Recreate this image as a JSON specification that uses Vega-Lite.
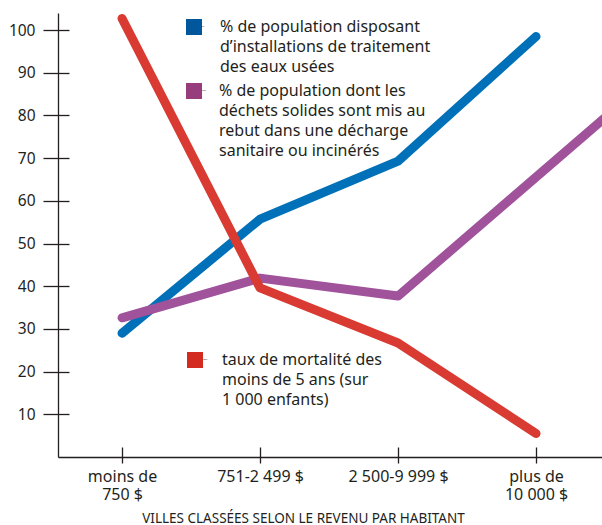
{
  "$schema": "https://vega.github.io/schema/vega-lite/v6.json",
  "width": 544,
  "height": 444,
  "autosize": {"type": "none"},
  "padding": {"left": 58, "top": 13, "right": 0, "bottom": 68},
  "background": "white",
  "config": {
    "view": {"stroke": null},
    "font": "Noto Sans",
    "axis": {"grid": false, "labelColor": "#231F20", "titleColor": "#231F20", "tickColor": "#231F20", "domainColor": "#231F20"},
    "legend": {
      "orient": "none", "padding": 0, "symbolType": "square", "symbolSize": 256, "symbolStrokeWidth": 0,
      "labelExpr": "''", "labelOffset": 0, "labelFontSize": 1,
      "titleOrient": "right", "titleAnchor": "start", "titleBaseline": "top", "titleFontSize": 16,
      "titleFontWeight": "normal", "titleColor": "#231F20", "titleLineHeight": 20, "titlePadding": 16, "titleLimit": 0
    }
  },
  "data": {
    "values": [
      {"serie": "eaux", "pos": 0, "valeur": 29.0},
      {"serie": "eaux", "pos": 1, "valeur": 55.7},
      {"serie": "eaux", "pos": 2, "valeur": 69.3},
      {"serie": "eaux", "pos": 3, "valeur": 98.5},
      {"serie": "déchets", "pos": 0, "valeur": 32.6},
      {"serie": "déchets", "pos": 1, "valeur": 41.9},
      {"serie": "déchets", "pos": 2, "valeur": 37.7},
      {"serie": "déchets", "pos": 3.5, "valeur": 79.5},
      {"serie": "mortalité", "pos": 0, "valeur": 102.7},
      {"serie": "mortalité", "pos": 1, "valeur": 39.6},
      {"serie": "mortalité", "pos": 2, "valeur": 26.7},
      {"serie": "mortalité", "pos": 3, "valeur": 5.5}
    ]
  },
  "resolve": {
    "scale": {"fill": "independent"},
    "axis": {"x": "independent", "y": "independent"}
  },
  "layer": [
    {
      "mark": {"type": "point", "opacity": 0},
      "encoding": {
        "x": {"field": "pos", "type": "quantitative", "scale": {"domain": [-0.464, 3.478], "nice": false, "zero": false},
          "axis": {"orient": "bottom", "domain": true, "domainWidth": 1.3, "ticks": false, "labels": false, "title": null}},
        "y": {"field": "valeur", "type": "quantitative", "scale": {"domain": [0, 104], "nice": false},
          "axis": {"orient": "left", "domain": true, "domainWidth": 1.3, "ticks": false, "labels": false, "title": null}}
      }
    },
    {
      "transform": [{"filter": "datum.serie == 'eaux'"}],
      "mark": {"type": "square", "size": 16, "filled": true, "opacity": 1},
      "encoding": {
        "x": {"field": "pos", "type": "quantitative", "axis": null},
        "y": {"field": "valeur", "type": "quantitative", "axis": null},
        "fill": {"field": "serie", "type": "nominal",
          "scale": {"domain": ["eaux"], "range": ["#00579C"]},
          "legend": {"legendX": 128, "legendY": 6,
            "title": ["% de population disposant", "d’installations de traitement", "des eaux usées"]}
        }
      }
    },
    {
      "transform": [{"filter": "datum.serie == 'déchets' && datum.pos <= 3"}],
      "mark": {"type": "square", "size": 16, "filled": true, "opacity": 1},
      "encoding": {
        "x": {"field": "pos", "type": "quantitative", "axis": null},
        "y": {"field": "valeur", "type": "quantitative", "axis": null},
        "fill": {"field": "serie", "type": "nominal",
          "scale": {"domain": ["déchets"], "range": ["#973C7C"]},
          "legend": {"legendX": 128, "legendY": 70, "titlePadding": 13,
            "title": ["% de population dont les", "déchets solides sont mis au", "rebut dans une décharge", "sanitaire ou incinérés"]}
        }
      }
    },
    {
      "transform": [{"filter": "datum.serie == 'mortalité'"}],
      "mark": {"type": "square", "size": 16, "filled": true, "opacity": 1},
      "encoding": {
        "x": {"field": "pos", "type": "quantitative", "axis": null},
        "y": {"field": "valeur", "type": "quantitative", "axis": null},
        "fill": {"field": "serie", "type": "nominal",
          "scale": {"domain": ["mortalité"], "range": ["#D42B21"]},
          "legend": {"legendX": 129, "legendY": 339, "titlePadding": 15,
            "title": ["taux de mortalité des", "moins de 5 ans (sur", "1 000 enfants)"]}
        }
      }
    },
    {
      "mark": {"type": "line", "strokeWidth": 9, "strokeCap": "round", "strokeJoin": "round", "clip": true},
      "encoding": {
        "x": {"field": "pos", "type": "quantitative",
          "axis": {"orient": "bottom", "offset": -10, "domain": false, "tickSize": 16, "tickWidth": 1.3,
            "values": [0, 1, 2, 3], "labelFontSize": 16, "labelPadding": 5, "labelLineHeight": 18,
            "labelBaseline": "top", "labelFlush": false, "labelOverlap": false,
            "labelExpr": "datum.value == 0 ? ['moins de', '750 $'] : datum.value == 1 ? '751-2 499 $' : datum.value == 2 ? '2 500-9 999 $' : ['plus de', '10 000 $']",
            "title": "VILLES CLASSÉES SELON LE REVENU PAR HABITANT", "titleFontSize": 13.5, "titleFontWeight": "normal",
            "titleX": 245, "titleY": 71, "titleBaseline": "middle", "titleAnchor": "middle", "titleAlign": "center"}},
        "y": {"field": "valeur", "type": "quantitative",
          "axis": {"orient": "left", "offset": -11, "domain": false, "tickSize": 26, "tickWidth": 1.3,
            "values": [10, 20, 30, 40, 50, 60, 70, 80, 90, 100], "labelFontSize": 15.5, "labelPadding": 8, "title": null}},
        "stroke": {"field": "serie", "type": "nominal",
          "scale": {"domain": ["déchets", "eaux", "mortalité"], "range": ["#A0529B", "#0071B8", "#D93A32"]},
          "legend": null}
      }
    }
  ]
}
